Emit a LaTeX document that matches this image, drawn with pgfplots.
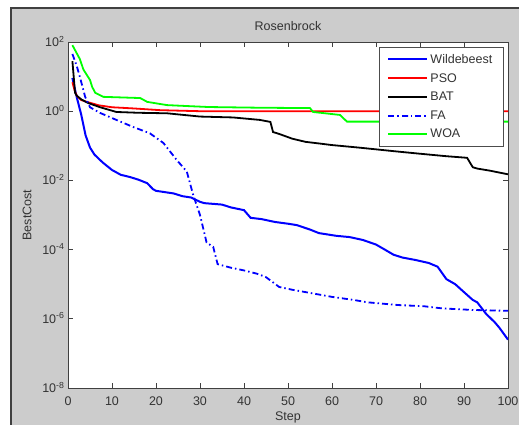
\documentclass[border=0pt]{standalone}
\usepackage{fontspec}
\setmainfont{Liberation Sans}
\usepackage{pgfplots}
\pgfplotsset{compat=1.18}
\definecolor{figgray}{RGB}{204,204,204}
\definecolor{mgreen}{rgb}{0,1,0}
\definecolor{mblue}{rgb}{0,0,1}
\definecolor{mred}{rgb}{1,0,0}
\begin{document}
\begin{tikzpicture}[x=1pt,y=1pt,font=\fontsize{12.5}{15}\selectfont]
\useasboundingbox (0,0) rectangle (519,425);
\fill[white] (0,0) rectangle (519,425);
\fill[figgray] (11,0) rectangle (519,417);
\draw[black!75, line width=1.5pt] (11,0) -- (11,417) -- (519,417);
\begin{axis}[
  at={(68pt,37pt)}, anchor=south west,
  scale only axis, width=440pt, height=346pt,
  xmin=0, xmax=100, ymin=1e-8, ymax=1e2, ymode=log,
  xtick={0,10,...,100},
  ytick={1e-8,1e-6,1e-4,1e-2,1,1e2},
  yticklabels={10\textsuperscript{-8},10\textsuperscript{-6},10\textsuperscript{-4},10\textsuperscript{-2},10\textsuperscript{0},10\textsuperscript{2}},
  yminorticks=false,
  /pgf/number format/assume math mode=true,
  axis background/.style={fill=white},
  axis line style={black!75, line width=0.8pt},
  major tick length=5pt,
  tick style={black!75, line width=0.8pt},
  tick label style={text=black!80},
  yticklabel style={anchor=base east, yshift=-4.5pt},
  xticklabel style={yshift=-5pt},
  xlabel=Step, ylabel=BestCost,
  xlabel style={text=black!80, at={(axis description cs:0.5,-0.084)}, anchor=center},
  ylabel style={text=black!80, at={(axis description cs:-0.093,0.5)}, anchor=center},
  legend style={at={(axis description cs:0.9886,0.9855)}, anchor=north east,
    draw=black!70, fill=white, text=black!80,
    inner xsep=8.5pt, inner ysep=5pt, row sep=4.5pt},
  legend cell align=left,
  legend image code/.code={\draw[mark repeat=2,mark phase=2,#1] plot coordinates {(0pt,0pt) (19.5pt,0pt) (39pt,0pt)};},
]
% Wildebeest
\addplot[mblue, line width=2pt] coordinates {
(1,9.1)(2,2.5)(3,0.8)(4,0.2)(5,0.089)(6,0.056)(7,0.042)(8,0.032)(10,0.02)
(12,0.0145)(14,0.0126)(16,0.0105)(18,0.0083)(19.3,0.0056)(20,0.005)(24,0.0042)
(26,0.0035)(28,0.0032)(30,0.0024)(31,0.0022)(35,0.002)(37,0.00166)(40,0.00138)
(41.5,8.3e-4)(44,7.6e-4)(47,6.3e-4)(50,5.6e-4)(52,5.1e-4)(55,3.8e-4)(57,3.0e-4)
(61,2.5e-4)(64,2.3e-4)(67,1.9e-4)(70,1.4e-4)(72,1e-4)(74,7.1e-5)(76,5.9e-5)
(79,5e-5)(82,4.1e-5)(84,3.2e-5)(86,1.4e-5)(88,1e-5)(90,5.9e-6)(92,3.5e-6)
(93,3e-6)(95,1.4e-6)(97,7.9e-7)(98,5.6e-7)(100,2.5e-7)};
% PSO
\addplot[mred, line width=1.8pt] coordinates {
(1,6.9)(1.5,4)(2,2.8)(3,2.1)(5,1.75)(7,1.48)(10,1.3)(15,1.2)(21,1.07)(30,1.0)(100,1.0)};
% BAT
\addplot[black, line width=1.8pt] coordinates {
(1,28)(1.6,3.4)(2,2.8)(3,2.2)(4.5,1.74)(7.3,1.3)(11,0.95)(16,0.9)(22.5,0.87)
(30,0.7)(37.5,0.66)(43.6,0.56)(46,0.49)(46.6,0.25)(48,0.22)(51,0.16)(54,0.13)
(57,0.117)(60,0.105)(66,0.089)(70,0.079)(75,0.068)(80,0.059)(86,0.05)(90.7,0.045)
(92,0.024)(93,0.022)(96,0.019)(100,0.015)};
% FA
\addplot[mblue, line width=1.8pt, dash pattern=on 6pt off 3pt on 1.5pt off 3pt] coordinates {
(1,45)(2,20)(2.7,9.8)(3.9,2.6)(5,1.3)(7.3,0.89)(11,0.56)(14.8,0.35)(18.6,0.23)
(21.7,0.12)(24.7,0.039)(27,0.018)(28.4,0.004)(30,1e-3)(31.5,1.6e-4)(33,1.2e-4)
(34,3.8e-5)(37,3e-5)(40,2.5e-5)(43,2e-5)(45,1.6e-5)(48,8.3e-6)(51,6.9e-6)
(55,5.6e-6)(60,4.3e-6)(65,3.5e-6)(68,3e-6)(75,2.5e-6)(81,2.3e-6)(85,2e-6)
(92,1.8e-6)(100,1.7e-6)};
% WOA
\addplot[mgreen, line width=1.8pt] coordinates {
(1,81)(2.7,32)(3.5,16)(5,8)(5.5,5)(6.2,3.4)(8,2.6)(16.4,2.4)(18,1.86)(22.5,1.5)
(27,1.41)(32,1.32)(43.6,1.26)(55,1.23)(55.7,0.95)(61.8,0.78)(63.4,0.5)(100,0.5)};
\legend{Wildebeest, PSO, BAT, FA, WOA}
\end{axis}
\node[text=black!80, anchor=center] at (288,399) {Rosenbrock};
\end{tikzpicture}
\end{document}
